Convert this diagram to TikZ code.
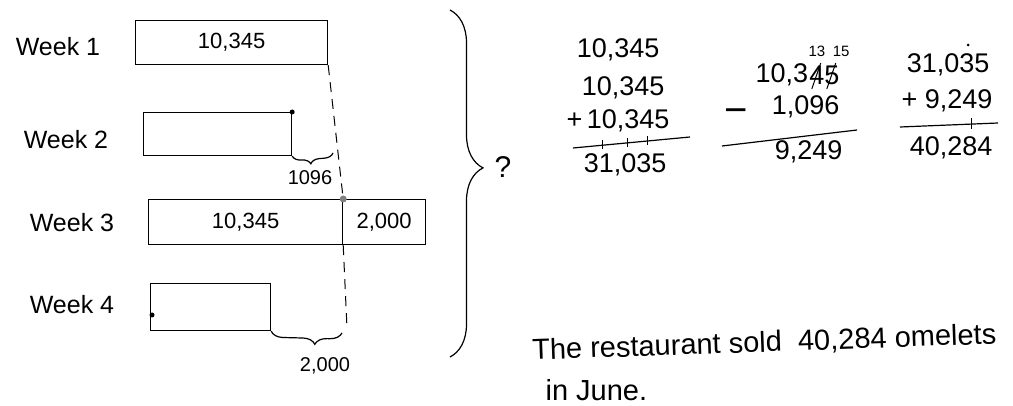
\documentclass[tikz,border=0pt]{standalone}
\usepackage{fontspec}
\setmainfont{Liberation Sans}
\usetikzlibrary{positioning,decorations.pathreplacing}
\tikzset{
  wklabel/.style={font=\fontsize{25}{30}\selectfont},
  bar/.style={draw,anchor=north west,inner sep=0pt,font=\fontsize{22}{26}\selectfont},
  sumnum/.style={anchor=east,inner sep=0pt,font=\fontsize{27}{32}\selectfont},
  smallnum/.style={inner sep=0pt,font=\fontsize{20}{24}\selectfont},
  brc/.style={decorate,decoration={brace,mirror,amplitude=#1}},
  strike/.style={line width=1pt},
  guide/.style={line width=1pt,dash pattern=on 10pt off 7pt}
}
\begin{document}
\begin{tikzpicture}[x=1pt,y=-1pt,line width=1.2pt]
\useasboundingbox (0,0) rectangle (1013,406);
\node[wklabel] (wk1) at (58,47) {Week 1};
\node[wklabel] (wk2) at (66,140) {Week 2};
\node[wklabel] (wk3) at (72,223) {Week 3};
\node[wklabel] (wk4) at (72,305) {Week 4};
\node[bar,minimum width=192,minimum height=44] (bar1) at (135,20) {10,345};
\node[bar,minimum width=148,minimum height=43] (bar2) at (143,112) {};
\node[bar,minimum width=194,minimum height=45] (bar3a) at (148,199) {10,345};
\node[bar,minimum width=83,minimum height=45,right=-1.2pt of bar3a] (bar3b) {2,000};
\node[bar,minimum width=120,minimum height=47] (bar4) at (150,283) {};
\fill (bar2.north east) circle (2.5);
\fill (152,315) circle (2.5);
\coordinate (dashend) at (347,328);
\draw[guide] (bar1.south east) -- (bar3a.north east);
\draw[guide] (bar3a.south east) -- (dashend);
\fill[gray] (bar3a.north east) circle (3.5);
\coordinate (gap2end) at (333,153);
\draw[brc=9,decoration={aspect=0.44}] (bar2.south east) -- (gap2end);
\node[smallnum] (gap2) at (310,178) {1096};
\coordinate (gap4end) at (342,333);
\draw[brc=12,decoration={aspect=0.62}] (bar4.south east) -- (gap4end);
\node[smallnum] (gap4) at (325,366) {2,000};
\coordinate (btop) at (450,10);
\coordinate (bbot) at (450,357);
\draw[decorate,decoration={brace,amplitude=33,aspect=0.455}] (btop) -- (bbot);
\node[font=\fontsize{30}{34}\selectfont] (ask) at (503,167) {?};
\node[sumnum] (a1) at (660,50) {10,345};
\node[sumnum] (a2) at (665,88) {10,345};
\node[sumnum] (a3) at (670,121) {+\,10,345};
\coordinate (a4l) at (573,148);
\coordinate (a4r) at (690,137);
\draw (a4l) -- (a4r);
\foreach \x/\y in {602/145,627/143,647/141}
  \draw[strike] (\x,\y-5) -- (\x,\y+4);
\node[sumnum] (a5) at (667,165) {31,035};
\node[sumnum] (s1b) at (840,75) {45};
\node[sumnum,left=0pt of s1b] (s1a) {10,3};
\draw[strike] ([shift={(3,4)}]s1b.south west) -- ++(9,-26);
\draw[strike] ([shift={(18,4)}]s1b.south west) -- ++(9,-26);
\node[font=\fontsize{15}{17}\selectfont] (s1c) at (829,51) {13\enspace15};
\node[sumnum,font=\fontsize{40}{44}\selectfont] (s2m) at (748,116) {−};
\node[sumnum] (s2) at (840,107) {1,096};
\coordinate (s3l) at (722,146);
\coordinate (s3r) at (857,130);
\draw (s3l) -- (s3r);
\node[sumnum] (s3) at (843,152) {9,249};
\fill (968,45) circle (1.5);
\node[sumnum] (c1) at (990,65) {31,035};
\node[sumnum] (c2) at (993,101) {+ 9,249};
\coordinate (c3l) at (900,127);
\coordinate (c3r) at (998,123);
\draw (c3l) -- (c3r);
\draw[strike] (971,118) -- (971,129);
\node[sumnum] (c3) at (993,148) {40,284};
\node[anchor=base west,rotate=2,inner sep=0pt,font=\fontsize{29}{34}\selectfont] (ans1) at (532,360) {The restaurant sold \ 40,284 omelets};
\node[anchor=base west,inner sep=0pt,font=\fontsize{29}{34}\selectfont] (ans2) at (545,400) {in June.};
\end{tikzpicture}
\end{document}
